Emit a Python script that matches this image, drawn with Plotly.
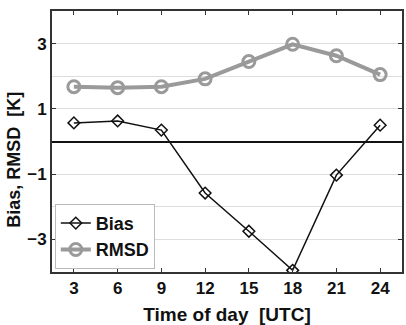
import plotly.graph_objects as go

hours = [3, 6, 9, 12, 15, 18, 21, 24]
bias = [0.57, 0.63, 0.35, -1.58, -2.75, -3.95, -1.03, 0.5]
rmsd = [1.68, 1.65, 1.68, 1.92, 2.45, 2.98, 2.63, 2.05]
y_ticks = [-3, -1, 1, 3]

fig = go.Figure()
fig.add_trace(go.Scatter(x=hours, y=bias, name="<b>Bias</b>", mode="lines+markers",
                         line=dict(color="#111111", width=1.5),
                         marker=dict(symbol="diamond-open", size=9, color="#111111",
                                     line=dict(width=1.5))))
fig.add_trace(go.Scatter(x=hours, y=rmsd, name="<b>RMSD</b>", mode="lines+markers",
                         line=dict(color="#9a9a9a", width=4),
                         marker=dict(symbol="circle-open", size=12, color="#9a9a9a",
                                     line=dict(width=3))))

fam = "Liberation Sans, Arial"
fig.update_layout(
    width=406, height=325,
    margin=dict(l=52, r=2, t=11, b=53),
    paper_bgcolor="white", plot_bgcolor="white",
    font=dict(family=fam, size=15, color="#111111"),
    legend=dict(x=0.008, y=0.012, xanchor="left", yanchor="bottom",
                bgcolor="white", bordercolor="#bbbbbb", borderwidth=1,
                font=dict(family=fam, size=18, color="#111111"),
                itemwidth=30, tracegroupgap=0),
    showlegend=True,
)
fig.add_annotation(text="<b>Bias, RMSD  [K]</b>", textangle=-90, showarrow=False,
                   xref="paper", yref="paper", x=0, y=0.43, xshift=-38,
                   xanchor="center", yanchor="middle",
                   font=dict(family=fam, size=18, color="#111111"))
fig.update_xaxes(range=[1.5, 25.5], tickvals=hours, ticks="inside", ticklen=4,
                 tickcolor="#333", showline=True, linecolor="#333", linewidth=2, mirror="ticks",
                 showgrid=False, zeroline=False,
                 tickfont=dict(family=fam, size=17, color="#111111", weight="bold"),
                 title=dict(text="<b>Time of day  [UTC]</b>", standoff=11,
                            font=dict(family=fam, size=19, color="#111111")))
fig.update_yaxes(range=[-4, 4], tickvals=y_ticks, ticks="inside", ticklen=4,
                 tickcolor="#333", showline=True, linecolor="#333", linewidth=2, mirror="ticks",
                 showgrid=True, gridcolor="#dddddd", gridwidth=1,
                 minor=dict(dtick=1, showgrid=True, gridcolor="#dddddd", ticklen=0),
                 zeroline=True, zerolinecolor="#111111", zerolinewidth=1.5,
                 tickfont=dict(family=fam, size=17, color="#111111", weight="bold"))

fig.write_html("out.html")
